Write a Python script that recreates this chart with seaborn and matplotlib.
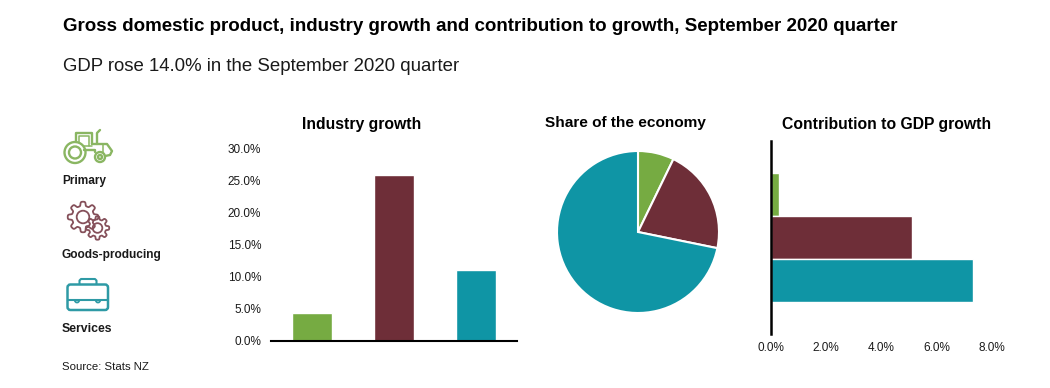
import numpy as np
import pandas as pd
import matplotlib
matplotlib.use("Agg")
import matplotlib.pyplot as plt
from matplotlib.patches import Circle, FancyBboxPatch, Polygon, Arc
from matplotlib.ticker import FuncFormatter
import seaborn as sns

categories = ["Primary", "Goods-producing", "Services"]
growth = [4.3, 25.9, 11.0]
share = [7.2, 21.0, 71.8]
contribution = [0.3, 5.1, 7.3]
colors = ["#76ab42", "#6e2e38", "#0f95a5"]
title = "Gross domestic product, industry growth and contribution to growth, September 2020 quarter"
subtitle = "GDP rose 14.0% in the September 2020 quarter"
source = "Source: Stats NZ"

sns.set_theme(style="white")
plt.rcParams["font.family"] = ["Liberation Sans", "DejaVu Sans"]
W, H = 1050, 388
fig = plt.figure(figsize=(W / 100, H / 100), dpi=100, facecolor="white")
TXT = "#1a1a1a"


def pxaxes(x0, y0, x1, y1, **kw):
    return fig.add_axes([x0 / W, 1 - y1 / H, (x1 - x0) / W, (y1 - y0) / H], **kw)


df = pd.DataFrame({"cat": categories, "growth": growth, "contribution": contribution})
pct = FuncFormatter(lambda v, _: f"{v:.1f}%")

# Industry growth
ax1 = pxaxes(271, 148.5, 517, 340.5)
sns.barplot(data=df, x="cat", y="growth", hue="cat", palette=colors, legend=False,
            width=0.49, saturation=1, ax=ax1)
ax1.set_xlim(-0.5, 2.5)
ax1.set_ylim(0, 30)
ax1.set_yticks(np.arange(0, 31, 5))
ax1.yaxis.set_major_formatter(pct)
ax1.set_xticks([])
ax1.set_xlabel("")
ax1.set_ylabel("")
ax1.patch.set_alpha(0)
for s in ["top", "right", "left"]:
    ax1.spines[s].set_visible(False)
ax1.spines["bottom"].set_color("black")
ax1.spines["bottom"].set_linewidth(1.5)
ax1.tick_params(axis="y", length=0, pad=7, labelsize=8.5, labelcolor=TXT)

# Share of the economy
ax2 = pxaxes(550, 144, 726, 320)
ax2.pie(share, colors=colors, startangle=90, counterclock=False, radius=1.0,
        wedgeprops=dict(edgecolor="white", linewidth=1.5))
ax2.set_xlim(-88 / 81, 88 / 81)
ax2.set_ylim(-88 / 81, 88 / 81)

# Contribution to GDP growth
ax3 = pxaxes(771, 141, 992, 334)
sns.barplot(data=df, y="cat", x="contribution", hue="cat", palette=colors, legend=False,
            width=1.0, saturation=1, orient="h", ax=ax3)
ax3.set_xlim(0, 8)
ax3.set_ylim(3.24, -1.24)
ax3.set_xticks(np.arange(0, 9, 2))
ax3.xaxis.set_major_formatter(pct)
ax3.set_yticks([])
ax3.set_xlabel("")
ax3.set_ylabel("")
ax3.patch.set_alpha(0)
for s in ["top", "right", "bottom"]:
    ax3.spines[s].set_visible(False)
ax3.spines["left"].set_color("black")
ax3.spines["left"].set_linewidth(1.8)
ax3.tick_params(axis="x", length=0, pad=6, labelsize=8.5, labelcolor=TXT)

# Overlay in pixel coordinates: text and icons
ov = fig.add_axes([0, 0, 1, 1], zorder=5)
ov.set_xlim(0, W)
ov.set_ylim(H, 0)
ov.axis("off")
ov.patch.set_alpha(0)

ov.text(63, 26.5, title, fontsize=13.5, fontweight="bold", color="black", va="center")
ov.text(63, 66.5, subtitle, fontsize=13.4, color=TXT, va="center")
ov.text(362, 124, "Industry growth", fontsize=11.3, fontweight="bold", color="black", ha="center", va="center")
ov.text(625, 123, "Share of the economy", fontsize=11.1, fontweight="bold", color="black", ha="center", va="center")
ov.text(887, 125, "Contribution to GDP growth", fontsize=11.3, fontweight="bold", color="black", ha="center", va="center")
ov.text(62, 181, categories[0], fontsize=8.6, fontweight="bold", color=TXT, va="center")
ov.text(62, 255, categories[1], fontsize=8.6, fontweight="bold", color=TXT, va="center")
ov.text(62, 329, categories[2], fontsize=8.8, fontweight="bold", color=TXT, va="center")
ov.text(62, 367, source, fontsize=8.2, color=TXT, va="center")

# Tractor icon
g = "#8ab662"
lw = 1.7
for c, r in [((75, 152.5), 10.5), ((75, 152.5), 6), ((100, 157), 5), ((100, 157), 2)]:
    ov.add_patch(Circle(c, r, fill=False, ec=g, lw=lw))
ov.plot([76, 76, 92, 92], [142, 132.5, 132.5, 144], color=g, lw=lw)
ov.plot([79, 79, 89, 89], [142, 136, 136, 146], color=g, lw=1.1)
ov.plot([84, 95, 95], [150, 150, 152], color=g, lw=lw)
ov.plot([92, 107, 112, 110, 105], [144, 144, 151, 155, 156], color=g, lw=lw)
ov.plot([97, 97, 100], [144, 133, 130], color=g, lw=lw)
ov.plot([84, 92], [146, 146], color=g, lw=1.1)
ov.plot([103, 103], [144, 152], color=g, lw=1.1)


# Gear icons
def gear(cx, cy, r, teeth, color):
    n = teeth * 24
    ang = np.linspace(0, 2 * np.pi, n, endpoint=False)
    rad = r * (0.88 + 0.14 * np.tanh(2.5 * np.cos(teeth * ang)))
    ov.add_patch(Polygon(np.c_[cx + rad * np.cos(ang), cy + rad * np.sin(ang)],
                         closed=True, fill=False, ec=color, lw=1.3, joinstyle="round"))
    ov.add_patch(Circle((cx, cy), r * 0.42, fill=False, ec=color, lw=1.3))


m = "#85505a"
gear(83, 217, 15, 8, m)
gear(97.5, 228, 11.5, 8, m)

# Briefcase icon
t = "#2e9aa5"
ov.add_patch(FancyBboxPatch((67.5, 284.5), 40.5, 25.5, boxstyle="round,pad=0,rounding_size=3",
                            fill=False, ec=t, lw=1.8))
ov.plot([79.5, 79.5, 81, 95, 96.5, 96.5], [284, 280.5, 279, 279, 280.5, 284], color=t, lw=1.5)
ov.plot([68, 108], [300, 300], color=t, lw=1.5)
for cx in (77, 98):
    ov.add_patch(Arc((cx, 300), 4.5, 5, theta1=0, theta2=180, ec=t, lw=1.3))

fig.savefig("out.png", dpi=100, facecolor="white")
